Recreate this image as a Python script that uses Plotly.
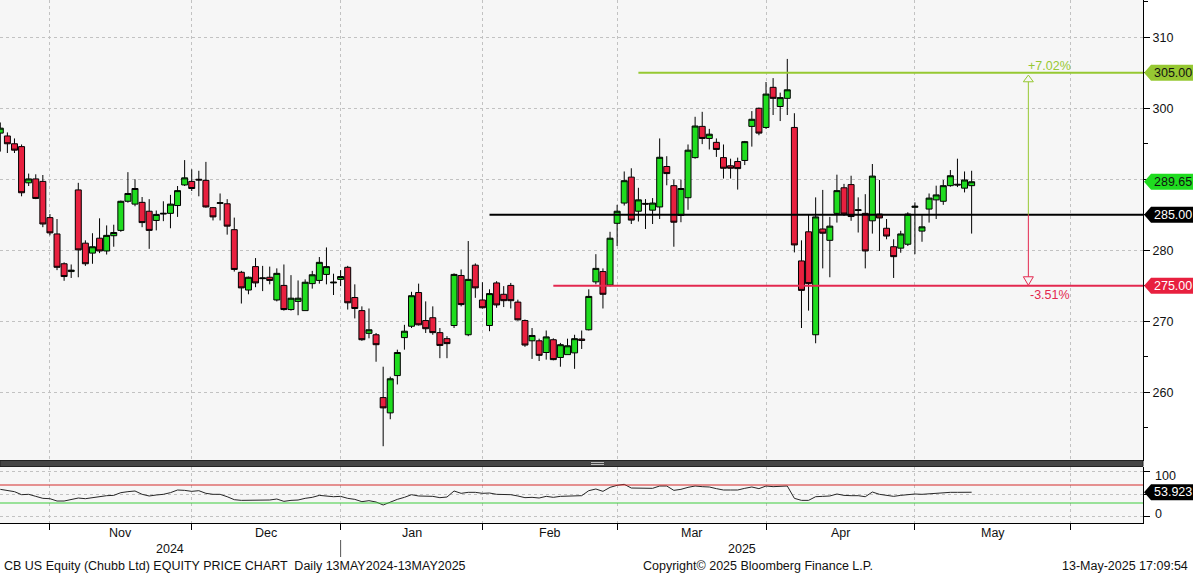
import plotly.graph_objects as go
import pandas as pd

# ---------------- data ----------------
holidays = ["2024-11-28", "2024-12-25", "2025-01-01", "2025-01-09",
            "2025-01-20", "2025-02-17", "2025-04-18"]
dates = pd.bdate_range("2024-10-23", "2025-05-13", freq="C", holidays=holidays)

opens = [296.5, 296.1, 295.0, 294.6, 289.5, 290.05, 289.7, 284.6, 282.3, 278.1,
         277.0, 288.5, 281.0, 279.6, 281.7, 279.9, 282.05, 282.8, 286.9, 286.5,
         286.75, 285.5, 284.2, 285.1, 285.2, 286.3, 289.2, 289.7, 290.0, 289.85,
         286.0, 286.6, 286.55, 282.9, 276.9, 274.4, 277.7, 276.0, 276.2, 273.0,
         275.05, 271.65, 272.8, 271.5, 275.3, 275.75, 276.6, 275.4, 275.9, 277.6,
         273.35, 271.5, 268.3, 268.1, 259.25, 257.1, 262.35, 267.7, 269.3, 274.05,
         270.1, 270.5, 268.4, 267.55, 269.4, 276.45, 268.1, 277.9, 273.0, 269.4,
         275.4, 273.8, 275.05, 272.7, 270.1, 267.25, 267.25, 265.6, 267.4, 264.9,
         265.3, 265.55, 267.5, 268.8, 275.55, 277.0, 275.1, 283.8, 286.65, 290.3,
         285.5, 286.6, 285.65, 286.1, 291.8, 289.1, 284.9, 287.4, 293.05, 297.45,
         295.75, 295.2, 293.05, 291.9, 292.5, 292.65, 297.45, 300.0, 297.3, 302.95,
         300.25, 301.4, 297.3, 278.5, 282.6, 268.1, 283.0, 281.4, 285.2, 288.8,
         289.25, 285.6, 285.2, 284.15, 285.1, 283.1, 280.5, 280.3, 280.85, 286.05,
         282.7, 285.8, 287.1, 286.9, 289.1, 289.3, 288.75, 289.1]
highs = [298.0, 296.6, 295.75, 294.9, 290.8, 290.7, 290.6, 285.1, 284.4, 278.3,
         278.0, 289.5, 281.4, 282.4, 284.5, 283.5, 283.6, 287.0, 291.0, 290.0,
         287.5, 287.2, 285.6, 286.9, 287.8, 289.05, 292.7, 291.4, 291.2, 292.45,
         286.1, 288.0, 287.2, 284.6, 277.1, 276.3, 278.9, 277.8, 277.7, 277.45,
         278.0, 276.5, 275.75, 275.9, 277.1, 279.05, 280.4, 276.7, 277.2, 277.8,
         275.2, 272.1, 271.8, 268.35, 263.6, 262.2, 266.0, 269.5, 274.15, 275.3,
         272.8, 272.1, 269.05, 267.9, 276.75, 277.3, 281.3, 278.15, 275.5, 274.5,
         275.65, 274.95, 275.4, 273.05, 270.25, 269.05, 267.55, 268.7, 267.6, 266.95,
         267.55, 268.1, 268.7, 274.5, 279.45, 277.45, 282.6, 286.4, 291.1, 291.55,
         288.8, 287.2, 287.35, 295.75, 293.25, 289.95, 289.95, 294.9, 298.8, 299.5,
         297.1, 295.75, 294.9, 292.9, 293.05, 295.4, 299.6, 300.1, 303.7, 304.25,
         302.2, 306.95, 299.3, 281.4, 285.1, 287.45, 288.5, 284.7, 290.65, 289.35,
         290.5, 287.45, 287.9, 292.15, 289.9, 284.4, 281.55, 282.75, 285.35, 286.75,
         285.1, 288.0, 289.1, 289.9, 291.3, 292.9, 291.1, 291.2]
lows = [293.9, 293.7, 293.7, 287.6, 289.05, 287.2, 283.25, 282.1, 277.2, 275.7,
        276.1, 276.2, 277.8, 278.1, 279.6, 279.4, 280.5, 282.6, 286.7, 286.2,
        283.25, 280.2, 282.8, 284.1, 283.1, 284.7, 289.05, 288.35, 287.6, 286.0,
        284.2, 284.2, 282.2, 277.0, 272.5, 273.8, 274.8, 274.25, 275.2, 272.8,
        271.5, 271.5, 270.85, 271.5, 274.6, 275.3, 275.2, 273.7, 274.95, 271.65,
        270.4, 267.25, 267.6, 264.3, 252.4, 256.2, 261.1, 266.0, 269.05, 269.4,
        268.35, 268.1, 264.8, 264.8, 269.05, 272.1, 267.9, 273.3, 271.8, 268.6,
        271.9, 272.0, 271.8, 270.1, 266.4, 264.7, 264.4, 264.6, 264.5, 263.6,
        265.3, 263.3, 266.1, 268.7, 275.2, 271.8, 274.9, 280.6, 286.3, 283.7,
        284.05, 283.0, 283.7, 284.4, 289.15, 280.5, 283.95, 285.7, 292.9, 294.95,
        294.2, 293.15, 290.1, 290.1, 288.55, 292.0, 294.6, 296.2, 297.1, 299.05,
        298.2, 299.05, 279.7, 269.05, 271.5, 266.9, 277.45, 276.2, 283.9, 284.85,
        284.15, 282.5, 277.45, 282.35, 279.9, 281.55, 276.1, 279.65, 280.6, 279.45,
        281.2, 283.9, 284.4, 286.4, 288.95, 288.9, 288.15, 282.35]
closes = [297.2, 295.0, 294.1, 288.1, 290.05, 287.3, 283.7, 282.45, 277.6, 276.3,
          277.2, 280.05, 278.1, 280.5, 279.9, 282.1, 282.5, 286.9, 288.0, 288.7,
          283.9, 282.8, 285.05, 285.2, 286.5, 288.4, 290.2, 288.7, 289.9, 286.1,
          284.7, 286.7, 283.4, 277.3, 274.7, 276.2, 275.4, 276.1, 275.75, 276.75,
          271.65, 273.25, 273.25, 275.5, 276.55, 278.3, 277.7, 275.5, 276.3, 272.6,
          271.8, 267.4, 268.8, 266.7, 257.8, 261.9, 265.6, 268.6, 273.6, 269.5,
          268.95, 268.4, 266.6, 266.85, 276.6, 272.35, 275.9, 274.7, 271.9, 273.9,
          272.3, 272.9, 272.9, 270.2, 266.65, 268.0, 265.2, 267.8, 264.6, 266.7,
          266.55, 267.55, 267.3, 273.5, 277.45, 273.8, 281.7, 285.5, 289.8, 284.25,
          287.1, 286.5, 286.65, 293.1, 290.8, 283.95, 288.7, 294.1, 297.5, 295.75,
          296.35, 294.2, 291.55, 291.55, 291.5, 295.3, 298.45, 296.5, 302.0, 301.4,
          301.5, 302.6, 280.75, 274.35, 275.3, 284.7, 282.4, 283.4, 288.4, 285.1,
          284.75, 285.7, 279.9, 290.45, 284.55, 282.0, 279.1, 282.3, 285.1, 286.2,
          283.3, 287.35, 287.8, 289.1, 290.5, 289.2, 289.9, 289.65]
rsi = [60.4, 57.4, 55.2, 48.5, 49.3, 44.8, 40.4, 39.6, 34.4, 34.4,
       37.4, 41.1, 39.6, 41.9, 43.3, 46.3, 47.0, 53.0, 55.2, 56.7,
       49.3, 45.6, 47.8, 49.3, 53.0, 58.9, 58.1, 55.9, 57.4, 51.5,
       49.3, 49.3, 44.0, 37.4, 35.9, 35.9, 35.9, 35.9, 36.7, 38.9,
       33.7, 35.9, 36.7, 40.4, 42.6, 47.0, 45.6, 44.0, 44.8, 40.4,
       38.1, 33.0, 35.2, 32.2, 25.6, 32.2, 38.1, 42.6, 48.5, 45.6,
       44.8, 44.8, 41.9, 43.3, 56.7, 51.5, 53.7, 53.7, 51.5, 52.2,
       49.3, 49.3, 48.5, 45.6, 41.9, 42.6, 41.1, 44.8, 42.6, 44.8,
       44.8, 45.6, 46.3, 57.4, 61.1, 55.9, 64.8, 69.3, 71.5, 63.3,
       62.6, 62.6, 62.6, 67.8, 67.8, 58.1, 60.4, 64.8, 67.8, 66.3,
       65.6, 61.9, 58.9, 58.9, 58.9, 62.6, 65.6, 61.9, 67.8, 66.3,
       66.3, 67.8, 40.4, 35.9, 35.9, 44.0, 44.8, 45.6, 50.0, 47.0,
       46.3, 46.3, 44.0, 54.4, 49.3, 47.0, 44.8, 47.0, 48.5, 50.0,
       49.3, 50.7, 52.2, 53.7, 53.7, 53.7, 54.4, 53.923]

level_high = 305.0
level_mid = 285.0
level_low = 275.0
level_start = {"high": 90, "mid": 69, "low": 78}   # trading-day index where drawn lines begin
arrow_day = 145
rsi_upper, rsi_lower = 70, 30

# ---------------- helpers ----------------
n = len(closes)
idx = list(range(n))
future = pd.bdate_range(dates[-1] + pd.Timedelta(days=1), periods=60)
all_dates = list(dates) + list(future)
month_pos = [i for i in range(1, len(all_dates)) if all_dates[i].month != all_dates[i - 1].month]
XL, XR = -0.042, 161.17
month_pos = [m for m in month_pos if XL < m < XR]

UP = "#1fdc1f"
DOWN = "#e8203f"
LGREEN = "#96c832"
LRED = "#e3284f"
FONT = "Liberation Sans, Arial, sans-serif"
FS = 12.5

H = 575
PLOT_H = 523.0
MAIN_BOT = (PLOT_H - 461) / PLOT_H
LOW_TOP = (PLOT_H - 467) / PLOT_H
Y1 = [250.32, 315.25]
Y2 = [-14.4, 110]
PW = 1143.0


def py(pix):
    return (PLOT_H - pix) / PLOT_H


def xpaper(d):
    return (d - XL) / (XR - XL)


def txt(**kw):
    base = dict(showarrow=False, xanchor="center", yanchor="middle",
                font=dict(size=FS, family=FONT, color="#111"))
    base.update(kw)
    return base


fig = go.Figure()
fig.add_trace(go.Candlestick(
    x=idx, open=opens, high=highs, low=lows, close=closes,
    increasing=dict(line=dict(color="black", width=1), fillcolor=UP),
    decreasing=dict(line=dict(color="black", width=1), fillcolor=DOWN),
    whiskerwidth=0, xaxis="x", yaxis="y", showlegend=False,
    text=[d.strftime("%d-%b-%Y") for d in dates], hoverinfo="x+y+text"))
fig.add_trace(go.Scatter(x=idx, y=rsi, mode="lines", line=dict(color="#262626", width=1),
                         xaxis="x2", yaxis="y2", showlegend=False))

grid = dict(showgrid=True, gridcolor="#c2c2c2", griddash="3px,3px", gridwidth=1, zeroline=False,
            automargin=False)

fig.update_layout(
    width=1193, height=H, margin=dict(l=0, r=50, t=0, b=52, pad=0, autoexpand=False),
    paper_bgcolor="white", plot_bgcolor="#f6f6f6",
    boxgap=0.16, boxgroupgap=0,
    font=dict(family=FONT, size=FS, color="#111"),
    xaxis=dict(domain=[0, 1], range=[XL, XR], anchor="y", tickmode="array", tickvals=month_pos,
               showticklabels=False, ticks="", rangeslider=dict(visible=False), **grid),
    yaxis=dict(domain=[MAIN_BOT, 1], range=Y1, side="right", anchor="x",
               tickmode="array", tickvals=[260, 270, 280, 290, 300, 310],
               ticktext=["260", "270", "280", "", "300", "310"],
               ticks="outside", ticklen=6, tickcolor="black", showline=True, linecolor="black",
               linewidth=1, tickfont=dict(size=FS, color="#111"),
               minor=dict(tickmode="linear", tick0=0, dtick=5, ticks="outside", ticklen=4,
                          tickcolor="black", showgrid=False), **grid),
    xaxis2=dict(domain=[0, 1], matches="x", anchor="y2", tickmode="array", tickvals=month_pos,
                showticklabels=False, ticks="outside", ticklen=6, tickcolor="black",
                showline=True, linecolor="black", linewidth=1,
                rangeslider=dict(visible=False), **grid),
    yaxis2=dict(domain=[0, LOW_TOP], range=Y2, side="right", anchor="x2",
                tickmode="array", tickvals=[0, 50, 100], ticktext=["", "", ""],
                ticks="outside", ticklen=6, tickcolor="black", showline=True,
                linecolor="black", linewidth=1, **grid),
)

shapes = []
annos = []

# level lines
for key, lvl, col in [("high", level_high, LGREEN), ("mid", level_mid, "black"), ("low", level_low, LRED)]:
    shapes.append(dict(type="line", xref="x", yref="y", x0=level_start[key], x1=XR, y0=lvl, y1=lvl,
                       line=dict(color=col, width=2)))

# arrow between levels
up_h = 9 / 7.1
tri_w = 5 / 7.09
a = arrow_day
shapes.append(dict(type="line", xref="x", yref="y", x0=a, x1=a,
                   y0=level_mid, y1=level_high - up_h, line=dict(color=LGREEN, width=1)))
shapes.append(dict(type="line", xref="x", yref="y", x0=a, x1=a,
                   y0=level_mid, y1=level_low + up_h, line=dict(color=LRED, width=1)))
top_apex = level_high - 2.3 / 7.1
bot_apex = level_low + 0.5 / 7.1
shapes.append(dict(type="path", xref="x", yref="y",
                   path=f"M {a - tri_w},{level_high - up_h} L {a},{top_apex} L {a + tri_w},{level_high - up_h} Z",
                   line=dict(color=LGREEN, width=1), fillcolor="#f6f6f6"))
shapes.append(dict(type="path", xref="x", yref="y",
                   path=f"M {a - tri_w},{level_low + up_h} L {a},{bot_apex} L {a + tri_w},{level_low + up_h} Z",
                   line=dict(color=LRED, width=1), fillcolor="#f6f6f6"))
pct_up = (level_high / level_mid - 1) * 100
pct_dn = (level_low / level_mid - 1) * 100
annos.append(txt(x=a + 3, y=level_high, xref="x", yref="y", text=f"+{pct_up:.2f}%", yshift=7,
                 font=dict(color=LGREEN, size=FS, family=FONT)))
annos.append(txt(x=a + 3, y=level_low, xref="x", yref="y", text=f"{pct_dn:.2f}%", yshift=-9,
                 font=dict(color=LRED, size=FS, family=FONT)))


# right-hand value tags
def tag(value, yref, px_per_unit, bg, fg, text):
    h = 8 / px_per_unit
    tip = 1.0 + 1 / PW
    sh = 1.0 + 8 / PW
    rt = 1193 / PW
    shapes.append(dict(type="path", xref="paper", yref=yref, layer="above",
                       path=f"M {tip},{value} L {sh},{value + h} L {rt},{value + h} L {rt},{value - h} L {sh},{value - h} Z",
                       fillcolor=bg, line=dict(width=0)))
    annos.append(txt(x=(sh + rt) / 2 + 1 / PW, y=value, xref="paper", yref=yref, text=text,
                     font=dict(color=fg, size=FS, family=FONT)))


tag(level_high, "y", 7.1, LGREEN, "#111", f"{level_high:.2f}")
tag(closes[-1], "y", 7.1, UP, "#111", f"{closes[-1]:.2f}")
tag(level_mid, "y", 7.1, "#000000", "white", f"{level_mid:.2f}")
tag(level_low, "y", 7.1, DOWN, "white", f"{level_low:.2f}")
tag(rsi[-1], "y2", 0.45, "#000000", "white", f"{rsi[-1]:.3f}")

# RSI bands
shapes.append(dict(type="line", xref="x2 domain", yref="y2", x0=0, x1=1, y0=rsi_upper, y1=rsi_upper,
                   line=dict(color="#d42a2a", width=1.2)))
shapes.append(dict(type="line", xref="x2 domain", yref="y2", x0=0, x1=1, y0=rsi_lower, y1=rsi_lower,
                   line=dict(color="#3ccc3c", width=1.2)))

# RSI axis labels (offset inward like the original)
annos.append(txt(x=1.0 + 10 / PW, y=py(476), xref="paper", yref="paper", text="100", xanchor="left"))
annos.append(txt(x=1.0 + 10 / PW, y=py(514), xref="paper", yref="paper", text="0", xanchor="left"))

# separator bar between panels
shapes.append(dict(type="rect", xref="paper", yref="paper", x0=0, x1=1, y0=py(466.5), y1=py(460.5),
                   fillcolor="#454545", line=dict(color="#222", width=1), layer="above"))
for yy in (462.5, 464.5):
    shapes.append(dict(type="line", xref="paper", yref="paper", x0=591 / PW, x1=604 / PW,
                       y0=py(yy), y1=py(yy), line=dict(color="#bbbbbb", width=1), layer="above"))

# month labels, centred between month boundaries
for i in range(len(month_pos) - 1):
    m, nxt = month_pos[i], month_pos[i + 1]
    annos.append(txt(x=(m + nxt) / 2, y=py(533), xref="x2", yref="paper", text=all_dates[m].strftime("%b")))
# year labels
year_split = [m for m in month_pos if all_dates[m].month == 1][0]
annos.append(txt(x=(XL + year_split) / 2, y=py(549), xref="x2", yref="paper",
                 text=str(all_dates[year_split - 1].year)))
annos.append(txt(x=(year_split + XR) / 2, y=py(549), xref="x2", yref="paper",
                 text=str(all_dates[year_split].year)))
shapes.append(dict(type="line", xref="paper", yref="paper", x0=xpaper(year_split), x1=xpaper(year_split),
                   y0=py(540), y1=py(557), line=dict(color="#555", width=1)))

# footer
annos.append(txt(x=2 / PW, y=py(566), xref="paper", yref="paper", xanchor="left",
                 text="CB US Equity (Chubb Ltd) EQUITY PRICE CHART  Daily 13MAY2024-13MAY2025"))
annos.append(txt(x=758 / PW, y=py(566), xref="paper", yref="paper",
                 text="Copyright© 2025 Bloomberg Finance L.P."))
annos.append(txt(x=1190 / PW, y=py(566), xref="paper", yref="paper", xanchor="right",
                 text="13-May-2025 17:09:54"))

fig.update_layout(shapes=shapes, annotations=annos)
fig.write_html("out.html", config={"displayModeBar": False},
               post_script="document.body.style.margin='0px';document.body.style.overflow='hidden';")
